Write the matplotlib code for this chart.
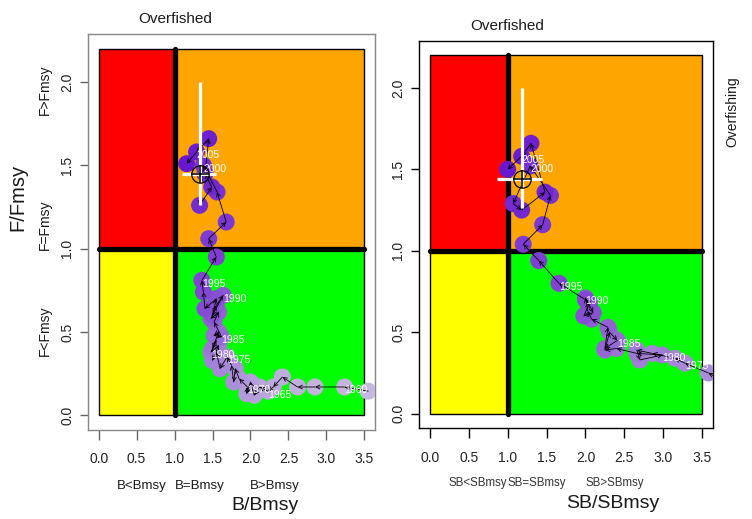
import numpy as np
import matplotlib
matplotlib.use("Agg")
import matplotlib.pyplot as plt
from matplotlib.colors import LinearSegmentedColormap
from matplotlib.patches import Rectangle

plt.rcParams['font.family'] = ['Liberation Sans', 'DejaVu Sans']

# ---------------- data ----------------
left_years = list(range(1959, 2007))
left_b = [3.55, 3.24, 2.85, 2.62, 2.42, 2.30, 2.23, 2.12, 2.05, 2.00,
          1.95, 1.96, 1.85, 1.80, 1.78, 1.75, 1.69, 1.60, 1.55, 1.50,
          1.58, 1.48, 1.55, 1.50, 1.58, 1.52, 1.62, 1.52, 1.58, 1.48,
          1.55, 1.64, 1.50, 1.55, 1.40, 1.38, 1.36, 1.55, 1.45, 1.68,
          1.56, 1.38, 1.33, 1.49, 1.40, 1.45, 1.29, 1.16]
left_f = [0.145, 0.17, 0.17, 0.17, 0.23, 0.17, 0.145, 0.17, 0.12, 0.20,
          0.13, 0.17, 0.22, 0.28, 0.20, 0.30, 0.35, 0.28, 0.38, 0.33,
          0.42, 0.38, 0.45, 0.40, 0.50, 0.48, 0.47, 0.56, 0.62, 0.58,
          0.66, 0.72, 0.60, 0.70, 0.64, 0.74, 0.81, 0.95, 1.06, 1.16,
          1.34, 1.50, 1.26, 1.37, 1.45, 1.66, 1.58, 1.51]

right_years = list(range(1973, 2007))
right_sb = [3.78, 3.58, 3.28, 3.15, 2.86, 2.66, 2.70, 2.99, 2.66, 2.40,
            2.25, 2.31, 2.41, 2.25, 2.29, 2.08, 2.03, 2.00, 2.10, 1.98,
            2.05, 2.00, 1.66, 1.40, 1.20, 1.45, 1.55, 1.29, 1.07, 1.18,
            1.48, 1.30, 1.18, 1.00]
right_f = [0.20, 0.25, 0.31, 0.34, 0.37, 0.39, 0.33, 0.36, 0.37, 0.40,
           0.39, 0.50, 0.45, 0.40, 0.53, 0.58, 0.63, 0.71, 0.62, 0.60,
           0.68, 0.70, 0.80, 0.94, 1.04, 1.16, 1.34, 1.52, 1.29, 1.25,
           1.36, 1.66, 1.58, 1.50]

label_years = [1960, 1965, 1970, 1975, 1980, 1985, 1990, 1995, 2000, 2005]

left_current = (1.33, 1.45)
left_ci_x = (1.10, 1.55)
left_ci_y = (1.26, 2.00)
right_current = (1.18, 1.44)
right_ci_x = (0.86, 1.44)
right_ci_y = (1.26, 2.00)

xticks = [0.0, 0.5, 1.0, 1.5, 2.0, 2.5, 3.0, 3.5]
yticks = [0.0, 0.5, 1.0, 1.5, 2.0]

# ---------------- figure ----------------
W, H = 752, 519
fig = plt.figure(figsize=(W / 100, H / 100), dpi=100)

def fx(px):
    return px / W

def fy(py):
    return 1 - py / H

cmap = LinearSegmentedColormap.from_list('yr', ['#c6b8de', '#9b74d6', '#6a18cf'])
year_min, year_max = 1959, 2006


def kobe(ax, xs, ys, years, cur, cix, ciy, frame_col):
    ax.set_xlim(-0.14, 3.64)
    ax.set_ylim(-0.088, 2.288)
    quads = [(0, 1, 1, 1.2, 'red'), (1, 1, 2.5, 1.2, 'orange'),
             (0, 0, 1, 1, 'yellow'), (1, 0, 2.5, 1, '#00ff00')]
    for x0, y0, w, h, c in quads:
        ax.add_patch(Rectangle((x0, y0), w, h, facecolor=c, edgecolor='black',
                               lw=1.0, zorder=1))
    ax.plot([1, 1], [0, 2.2], color='black', lw=3.8, solid_capstyle='round', zorder=2)
    ax.plot([0, 3.5], [1, 1], color='black', lw=3.8, solid_capstyle='round', zorder=2)

    cols = [cmap((y - year_min) / (year_max - year_min)) for y in years]
    ax.scatter(xs, ys, s=150, c=cols, edgecolors='none', zorder=3)
    for i in range(len(xs) - 1):
        ann = ax.annotate('', xy=(xs[i + 1], ys[i + 1]), xytext=(xs[i], ys[i]),
                          arrowprops=dict(arrowstyle='->', color='black', lw=0.6,
                                          shrinkA=0, shrinkB=0, mutation_scale=7),
                          zorder=4, annotation_clip=False)
        ann.arrow_patch.set_clip_path(ax.patch)
    for yr in label_years:
        if yr in years:
            k = years.index(yr)
            ax.text(xs[k], ys[k] - 0.02, str(yr), color='white', fontsize=7.5,
                    ha='left', va='center', zorder=5, clip_on=True)
    # uncertainty cross at current status
    ax.plot([cur[0], cur[0]], ciy, color='white', lw=2.3, zorder=6, solid_capstyle='butt')
    ax.plot(cix, [cur[1], cur[1]], color='white', lw=2.3, zorder=6, solid_capstyle='butt')
    ax.plot(cur[0], cur[1], marker='o', ms=12.5, mfc='none', mec='black', mew=0.9, zorder=7)
    ax.plot(cur[0], cur[1], marker='+', ms=12.5, mec='black', mew=1.1, zorder=7)

    ax.set_xticks(xticks)
    ax.set_xticklabels([f'{v:.1f}' for v in xticks])
    ax.set_yticks(yticks)
    ax.set_yticklabels([f'{v:.1f}' for v in yticks])
    for sp in ax.spines.values():
        sp.set_color(frame_col)
        sp.set_linewidth(1.0)


# left panel
axL = fig.add_axes([fx(88), fy(430), fx(375) - fx(88), fy(34) - fy(430)])
kobe(axL, left_b, left_f, left_years, left_current, left_ci_x, left_ci_y, '#888888')
axL.tick_params(axis='x', length=7, width=1, color='#666666', pad=9,
                labelsize=10, labelcolor='#222222')
axL.tick_params(axis='y', length=6, width=1, color='#666666', pad=4,
                labelsize=10, labelcolor='#222222', labelrotation=90)

# right panel
axR = fig.add_axes([fx(419), fy(428), fx(713) - fx(419), fy(41) - fy(428)])
kobe(axR, right_sb, right_f, right_years, right_current, right_ci_x, right_ci_y, 'black')
axR.tick_params(axis='x', length=7, width=1, color='black', pad=9.5,
                labelsize=10, labelcolor='#222222')
axR.tick_params(axis='y', length=6, width=1, color='black', pad=4,
                labelsize=10, labelcolor='#222222', labelrotation=90)
for lab in axL.get_yticklabels() + axR.get_yticklabels():
    lab.set_va('center')

tc = '#1a1a1a'
# left texts
fig.text(fx(175), fy(19), 'Overfished', fontsize=11, ha='center', va='center', color=tc)
fig.text(fx(18), fy(197), 'F/Fmsy', fontsize=14.5, rotation=90, ha='center', va='center', color=tc)
fig.text(fx(45), fy(90), 'F>Fmsy', fontsize=10, rotation=90, ha='center', va='center', color=tc)
fig.text(fx(45), fy(225), 'F=Fmsy', fontsize=10, rotation=90, ha='center', va='center', color=tc)
fig.text(fx(45), fy(331), 'F<Fmsy', fontsize=10, rotation=90, ha='center', va='center', color=tc)
fig.text(fx(142), fy(486), 'B<Bmsy', fontsize=9.5, ha='center', va='center', color=tc)
fig.text(fx(200), fy(486), 'B=Bmsy', fontsize=9.5, ha='center', va='center', color=tc)
fig.text(fx(275), fy(486), 'B>Bmsy', fontsize=9.5, ha='center', va='center', color=tc)
fig.text(fx(265), fy(506), 'B/Bmsy', fontsize=14, ha='center', va='center', color=tc)

# right texts
fig.text(fx(507), fy(26), 'Overfished', fontsize=11, ha='center', va='center', color=tc)
fig.text(fx(732), fy(112), 'Overfishing', fontsize=10, rotation=90, ha='center', va='center', color=tc)
fig.text(fx(478), fy(483), 'SB<SBmsy', fontsize=8.3, ha='center', va='center', color='#333333')
fig.text(fx(537), fy(483), 'SB=SBmsy', fontsize=8.3, ha='center', va='center', color='#333333')
fig.text(fx(615), fy(483), 'SB>SBmsy', fontsize=8.3, ha='center', va='center', color='#333333')
fig.text(fx(613), fy(504), 'SB/SBmsy', fontsize=14, ha='center', va='center', color=tc)

fig.savefig('out.png', dpi=100)
